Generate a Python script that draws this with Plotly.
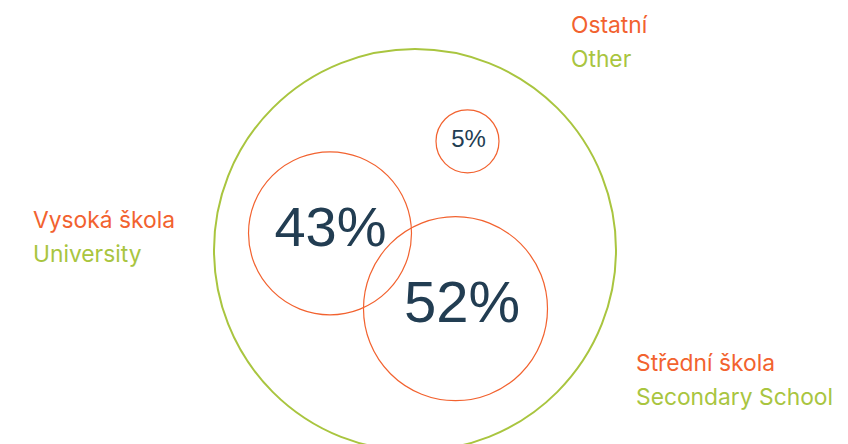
import plotly.graph_objects as go

# ---- data ----
categories_cs = ["Vysoká škola", "Střední škola", "Ostatní"]
categories_en = ["University", "Secondary School", "Other"]
values = [43, 52, 5]

# ---- geometry / style (pixel coordinates on an 848x444 page) ----
W, H = 848, 444
PAD = 8  # default page body margin
ORANGE = "#F2622F"
GREEN = "#A9C53F"
NAVY = "#223D52"

outer = dict(cx=415, cy=250, r=201)
bubbles = [
    dict(cx=330, cy=233.3, r=81.5, tx=330.5, ty=232, fs=56),
    dict(cx=455.5, cy=308.7, r=92, tx=462, ty=307, fs=58),
    dict(cx=467.5, cy=141.3, r=31.5, tx=468.5, ty=141, fs=24),
]
label_pos = [
    dict(x=31, y1=219, y2=253),
    dict(x=634, y1=362, y2=396),
    dict(x=569, y1=24, y2=58),
]

fig = go.Figure()

shapes = [dict(type="circle", xref="x", yref="y",
               x0=outer["cx"] - outer["r"], x1=outer["cx"] + outer["r"],
               y0=outer["cy"] - outer["r"], y1=outer["cy"] + outer["r"],
               line=dict(color=GREEN, width=2))]
for b in bubbles:
    shapes.append(dict(type="circle", xref="x", yref="y",
                       x0=b["cx"] - b["r"], x1=b["cx"] + b["r"],
                       y0=b["cy"] - b["r"], y1=b["cy"] + b["r"],
                       line=dict(color=ORANGE, width=1.2)))

for b, v in zip(bubbles, values):
    fig.add_trace(go.Scatter(
        x=[b["tx"]], y=[b["ty"]], mode="text", text=[f"{v}%"],
        textposition="middle center",
        textfont=dict(family="Liberation Sans, Arial, sans-serif", size=b["fs"], color=NAVY),
        hoverinfo="skip", showlegend=False))

annotations = []
for cs, en, p in zip(categories_cs, categories_en, label_pos):
    annotations.append(dict(x=p["x"], y=p["y1"], xref="x", yref="y", text=cs,
                            showarrow=False, xanchor="left", yanchor="middle",
                            font=dict(family="Inter, Liberation Sans, sans-serif", size=22.8, color=ORANGE)))
    annotations.append(dict(x=p["x"], y=p["y2"], xref="x", yref="y", text=en,
                            showarrow=False, xanchor="left", yanchor="middle",
                            font=dict(family="Inter, Liberation Sans, sans-serif", size=22.8, color=GREEN)))

fig.update_layout(
    width=W, height=H,
    margin=dict(l=0, r=0, t=0, b=0),
    paper_bgcolor="white", plot_bgcolor="white",
    xaxis=dict(range=[PAD, W + PAD], visible=False, fixedrange=True),
    yaxis=dict(range=[H + PAD, PAD], visible=False, fixedrange=True),
    shapes=shapes, annotations=annotations,
)

fig.write_html("out.html")
